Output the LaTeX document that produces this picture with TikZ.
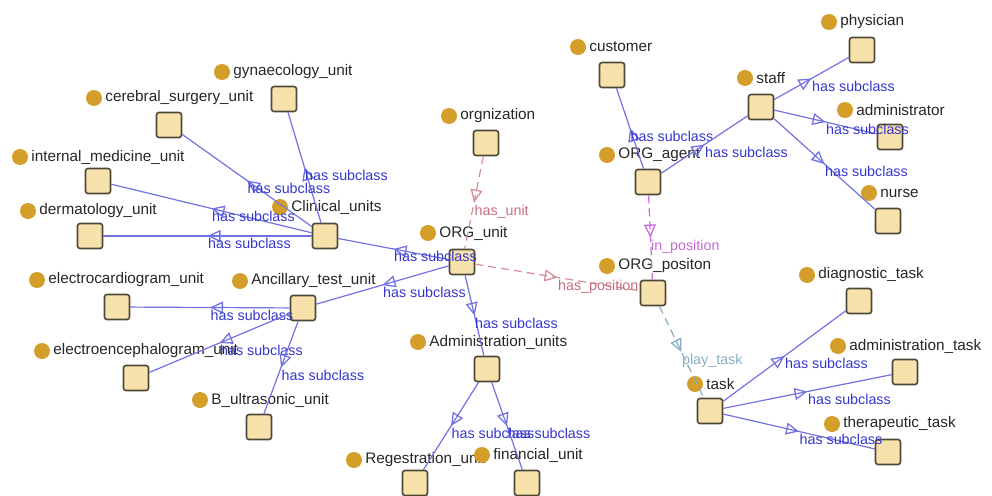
\documentclass[tikz,border=0pt]{standalone}
\usepackage{fontspec}
\setmainfont{Liberation Sans}
\usetikzlibrary{arrows.meta,decorations.markings}

\definecolor{clsfill}{HTML}{F8E2AC}
\definecolor{clsdraw}{HTML}{4E4838}
\definecolor{dotcol}{HTML}{D49E2A}
\definecolor{subline}{HTML}{7272E2}
\definecolor{subtext}{HTML}{3636CC}
\definecolor{unitcol}{HTML}{D88C96}
\definecolor{unittext}{HTML}{C66E7C}
\definecolor{poscol}{HTML}{C46AD8}
\definecolor{taskcol}{HTML}{88AEC4}

\tikzset{
  clsbox/.style={draw=clsdraw, line width=1.6pt, fill=clsfill, rounded corners=2.5pt,
    minimum size=25pt, inner sep=0pt},
  classdot/.style={circle, fill=dotcol, minimum size=16pt, inner sep=0pt},
  clsname/.style={anchor=west, inner sep=0pt, text=black!85,
    font=\fontsize{15.3}{16}\selectfont},
  midtri/.style={postaction={decorate}, decoration={markings,
    mark=at position 0.5 with {\arrow{Triangle[open, length=13pt, width=12pt, line width=1.3pt]}}}},
  subedge/.style={draw=subline, line width=1.2pt, midtri},
  propedge/.style={line width=1.2pt, dash pattern=on 8pt off 5pt, midtri},
  elab/.style={pos=0.5, anchor=north west, inner sep=0pt, yshift=-2pt,
    font=\fontsize{14.3}{15}\selectfont},
}

% class: square, its dot and its name
\newcommand\owlclass[6]{%
  \node[clsbox] (#1) at (#2,#3) {};
  \node[classdot] (#1-dot) at (#4,#5) {};
  \node[clsname] (#1-lbl) at ([xshift=3pt]#1-dot.east) {#6};
}
\newcommand\subof[2]{%
  \draw[subedge] (#1) -- (#2) node[elab, text=subtext] {has subclass};
}

\begin{document}
\begin{tikzpicture}[x=1pt,y=-1pt]
\useasboundingbox (0,0) rectangle (992,495);

% agents
\owlclass{customer}{612}{75}{578}{47}{customer}
\owlclass{physician}{862}{50}{829}{22}{physician}
\owlclass{staff}{761}{107}{745}{78}{staff}
\owlclass{administrator}{890}{137}{845}{110}{administrator}
\owlclass{agent}{648}{182}{607}{155}{ORG\_agent}
\owlclass{nurse}{888}{221}{869}{193}{nurse}

% organisation and units
\owlclass{orgnization}{486}{143}{449}{116}{orgnization}
\owlclass{gynaecology}{284}{99}{222}{72}{gynaecology\_unit}
\owlclass{cerebral}{169}{125}{94}{98}{cerebral\_surgery\_unit}
\owlclass{internal}{98}{181}{20}{157}{internal\_medicine\_unit}
\owlclass{clinical}{325}{236}{280}{207}{Clinical\_units}
\owlclass{dermatology}{90}{236}{28}{211}{dermatology\_unit}
\owlclass{unit}{462}{262}{428}{233}{ORG\_unit}
\owlclass{positon}{653}{293}{607}{266}{ORG\_positon}
\owlclass{ecg}{117}{307}{37}{280}{electrocardiogram\_unit}
\owlclass{ancillary}{303}{308}{240}{281}{Ancillary\_test\_unit}
\owlclass{eeg}{136}{378}{42}{351}{electroencephalogram\_unit}
\owlclass{bultra}{259}{427}{200}{400}{B\_ultrasonic\_unit}
\owlclass{admunits}{487}{369}{418}{342}{Administration\_units}
\owlclass{regestration}{415}{483}{354}{460}{Regestration\_unit}
\owlclass{financial}{527}{483}{482}{455}{financial\_unit}

% tasks
\owlclass{diagnostic}{859}{301}{807}{275}{diagnostic\_task}
\owlclass{admtask}{905}{372}{838}{346}{administration\_task}
\owlclass{task}{710}{411}{695}{384}{task}
\owlclass{therapeutic}{888}{452}{832}{424}{therapeutic\_task}

% subclass edges
\subof{clinical}{gynaecology}
\subof{clinical}{cerebral}
\subof{clinical}{internal}
\subof{clinical}{dermatology}
\subof{unit}{clinical}
\subof{unit}{ancillary}
\subof{unit}{admunits}
\subof{ancillary}{ecg}
\subof{ancillary}{eeg}
\subof{ancillary}{bultra}
\subof{admunits}{regestration}
\subof{admunits}{financial}
\subof{agent}{customer}
\subof{agent}{staff}
\subof{staff}{physician}
\subof{staff}{administrator}
\subof{staff}{nurse}
\subof{task}{diagnostic}
\subof{task}{admtask}
\subof{task}{therapeutic}

% object properties
\draw[propedge, draw=unitcol] (orgnization) -- (unit)
  node[elab, text=unittext] {has\_unit};
\draw[propedge, draw=unitcol] (unit) -- (positon)
  node[elab, text=unittext] {has\_position};
\draw[propedge, draw=poscol] (agent) -- (positon)
  node[elab, text=poscol] {in\_position};
\draw[propedge, draw=taskcol] (positon) -- (task)
  node[elab, text=taskcol] {play\_task};
\end{tikzpicture}
\end{document}
